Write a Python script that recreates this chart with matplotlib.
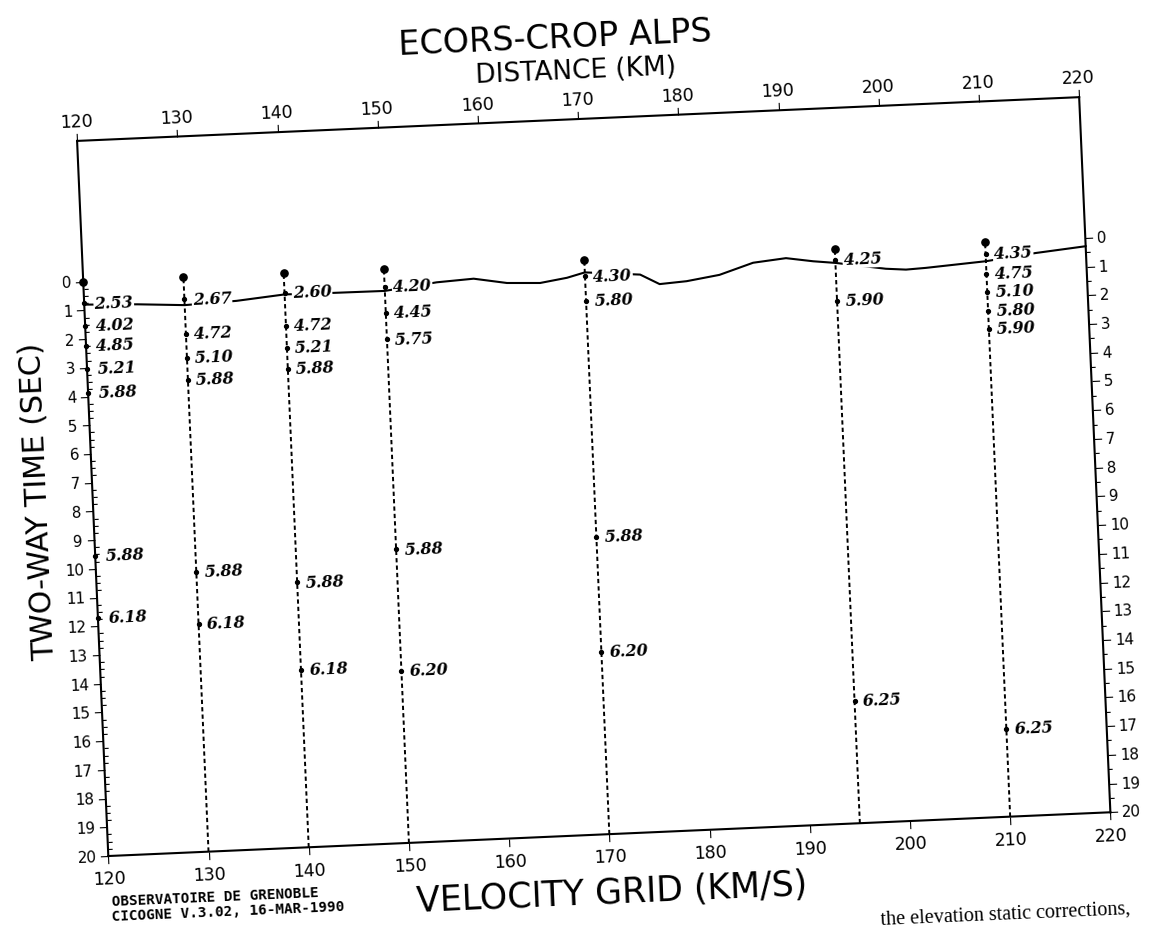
import numpy as np
import matplotlib
matplotlib.use("Agg")
import matplotlib.pyplot as plt
from matplotlib.transforms import Affine2D
import mpl_toolkits.axisartist.floating_axes as floating_axes
from mpl_toolkits.axisartist.grid_finder import FixedLocator, DictFormatter

plt.rcParams['font.family'] = ['DejaVu Sans']

# ---------------- data ----------------
title = "ECORS-CROP ALPS"
top_label = "DISTANCE (KM)"
bottom_label = "VELOCITY GRID (KM/S)"
left_label = "TWO-WAY TIME (SEC)"
footer_lines = ["OBSERVATOIRE DE GRENOBLE", "CICOGNE V.3.02, 16-MAR-1990"]
caption_fragment = "the elevation static corrections,"

km_ticks = [120, 130, 140, 150, 160, 170, 180, 190, 200, 210, 220]
time_ticks = list(range(0, 21))

# elevation (datum) line, distance km / two-way time s
elev_km = [120, 125.3, 130, 135.2, 140, 144.7, 150, 155.2, 158.9, 162.2, 165.5,
           168.2, 170, 175.5, 177.4, 180.1, 183.4, 186.8, 190.1, 192.8, 195,
           200, 202, 204, 210, 215, 220]
elev_t = [0.80, 0.87, 0.97, 0.90, 0.75, 0.77, 0.78, 0.56, 0.49, 0.69, 0.74,
          0.60, 0.44, 0.60, 0.96, 0.90, 0.73, 0.36, 0.25, 0.40, 0.49,
          0.77, 0.83, 0.80, 0.66, 0.45, 0.29]

# velocity profiles
profile_km = [120, 130, 140, 150, 170, 195, 210]
profile_top_t = [0, 0, 0, 0, 0, 0, 0]

vel_120 = [2.53, 4.02, 4.85, 5.21, 5.88, 5.88, 6.18]
t_120 = [0.76, 1.55, 2.24, 3.05, 3.89, 9.56, 11.71]
vel_130 = [2.67, 4.72, 5.10, 5.88, 5.88, 6.18]
t_130 = [0.77, 1.97, 2.80, 3.58, 10.25, 12.06]
vel_140 = [2.60, 4.72, 5.21, 5.88, 5.88, 6.18]
t_140 = [0.71, 1.84, 2.60, 3.35, 10.78, 13.81]
vel_150 = [4.20, 4.45, 5.75, 5.88, 6.20]
t_150 = [0.63, 1.54, 2.47, 9.78, 14.01]
vel_170 = [4.30, 5.80, 5.88, 6.20]
t_170 = [0.58, 1.44, 9.64, 13.65]
vel_195 = [4.25, 5.90, 6.25]
t_195 = [0.38, 1.82, 15.73]
vel_210 = [4.35, 4.75, 5.10, 5.80, 5.90, 6.25]
t_210 = [0.40, 1.09, 1.72, 2.39, 3.03, 16.94]

profile_vel = [vel_120, vel_130, vel_140, vel_150, vel_170, vel_195, vel_210]
profile_t = [t_120, t_130, t_140, t_150, t_170, t_195, t_210]

# ---------------- layout / geometry ----------------
ROT = 2.5            # scan tilt, degrees
K = 2.866            # vertical exaggeration (1 s vs 1 km)
T_BOTTOM = 20.0
T_TOP = -4.9
RECT = [0.0575, 0.0683, 0.9078, 0.8341]

tr = Affine2D().scale(1.0, K).rotate_deg(ROT)

fig = plt.figure(figsize=(11.61, 9.28), dpi=100)


def make_axes(loc2, fmt2):
    gh = floating_axes.GridHelperCurveLinear(
        tr, extremes=(km_ticks[0], km_ticks[-1], -T_BOTTOM, -T_TOP),
        grid_locator1=FixedLocator(km_ticks),
        grid_locator2=FixedLocator(loc2),
        tick_formatter1=DictFormatter({k: str(k) for k in km_ticks}),
        tick_formatter2=fmt2)
    return fig.add_axes(RECT, axes_class=floating_axes.FloatingAxes,
                        grid_helper=gh)


ax = make_axes([-t for t in time_ticks],
               DictFormatter({-t: str(t) for t in time_ticks}))

for side in ("left", "right", "top", "bottom"):
    a = ax.axis[side]
    a.line.set_linewidth(1.5)
    a.major_ticks.set_tick_out(True)
    a.major_ticks.set_ticksize(5.5)
    a.major_ticks.set_linewidth(1.2)
ax.axis["top"].toggle(ticklabels=True, label=True)
ax.axis["right"].toggle(ticklabels=True)
for side in ("left", "right"):
    ax.axis[side].major_ticklabels.set_fontsize(11)
    ax.axis[side].major_ticklabels.set_pad(3)
for side in ("top", "bottom"):
    ax.axis[side].major_ticklabels.set_fontsize(12.5)
    ax.axis[side].major_ticklabels.set_pad(5)

ax.axis["bottom"].label.set_text(bottom_label)
ax.axis["bottom"].label.set_fontsize(25)
ax.axis["bottom"].label.set_pad(10)
ax.axis["top"].label.set_text(top_label)
ax.axis["top"].label.set_fontsize(19)
ax.axis["top"].label.set_pad(6)
ax.axis["left"].label.set_text(left_label)
ax.axis["left"].label.set_fontsize(21.5)
ax.axis["left"].label.set_pad(6)

# minor ticks: left inward quarters, right outward halves
quarters = [-q / 4 for q in range(0, 81) if q % 4]
halves = [-h / 2 for h in range(0, 41) if h % 2]
axl = make_axes(quarters, DictFormatter({}))
axr = make_axes(halves, DictFormatter({}))
for axm, keep, out in ((axl, "left", False), (axr, "right", True)):
    axm.patch.set_visible(False)
    for side in ("left", "right", "top", "bottom"):
        if side != keep:
            axm.axis[side].set_visible(False)
    a = axm.axis[keep]
    a.line.set_visible(False)
    a.major_ticklabels.set_visible(False)
    a.label.set_visible(False)
    a.major_ticks.set_tick_out(out)
    a.major_ticks.set_ticksize(3)
    a.major_ticks.set_linewidth(1.0)

aux = ax.get_aux_axes(tr)

# elevation line
aux.plot(elev_km, [-t for t in elev_t], color="black", lw=1.5, zorder=2)

# profile dashed lines and top dots
aux.vlines(profile_km[1:], -T_BOTTOM, [-t for t in profile_top_t[1:]],
           colors="black", linestyles=(0, (2.2, 1.6)), lw=1.4, zorder=2)
aux.plot(profile_km, [-t for t in profile_top_t], "o", color="black",
         ms=5.2, zorder=4)

# interface points and velocity labels
for xk, vels, ts in zip(profile_km, profile_vel, profile_t):
    aux.plot([xk] * len(ts), [-t for t in ts], "o", color="black",
             ms=2.8, zorder=3)
    dx = 1.0 if xk == profile_km[0] else 0.8
    for v, t in zip(vels, ts):
        aux.text(xk + dx, -t, f"{v:.2f}", rotation=ROT, rotation_mode="anchor",
                 ha="left", va="center", fontsize=11.5, fontstyle="italic",
                 fontweight="bold", family="DejaVu Serif", zorder=5,
                 bbox=dict(facecolor="white", edgecolor="none", pad=0.6))

# title, footer and the cut caption line of the page
fig.text(0.478, 0.958, title, rotation=ROT, rotation_mode="anchor",
         ha="center", va="center", fontsize=24)
fig.text(0.0965, 1 - 906 / 928, footer_lines[0], rotation=ROT,
         rotation_mode="anchor", ha="left", va="baseline", fontsize=10.3,
         family="DejaVu Sans Mono", weight="bold")
fig.text(0.0965, 1 - 921 / 928, footer_lines[1], rotation=ROT,
         rotation_mode="anchor", ha="left", va="baseline", fontsize=10.3,
         family="DejaVu Sans Mono", weight="bold")
fig.text(0.974, 1 - 914 / 928, caption_fragment, rotation=ROT,
         rotation_mode="anchor", ha="right", va="baseline", fontsize=14.5,
         family="Liberation Serif")

fig.savefig("out.png", dpi=100, facecolor="white")
